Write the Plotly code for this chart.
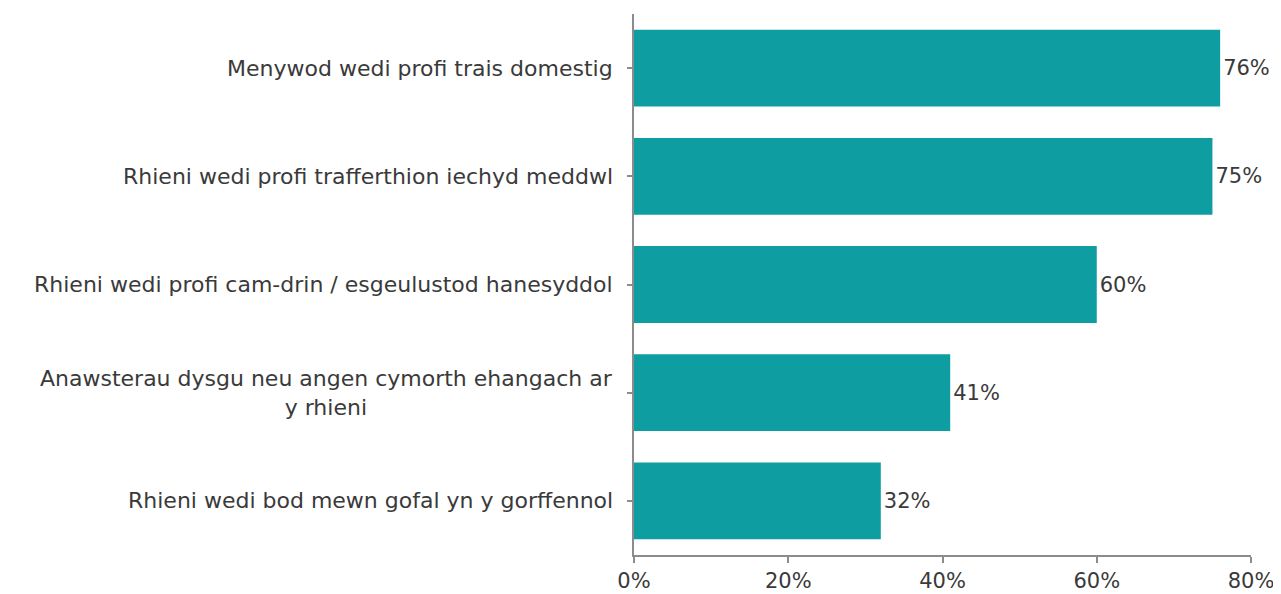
import plotly.graph_objects as go

categories = [
    "Menywod wedi profi trais domestig",
    "Rhieni wedi profi trafferthion iechyd meddwl",
    "Rhieni wedi profi cam-drin / esgeulustod hanesyddol",
    "Anawsterau dysgu neu angen cymorth ehangach ar<br>y rhieni",
    "Rhieni wedi bod mewn gofal yn y gorffennol",
]
values = [76, 75, 60, 41, 32]
x_ticks = [0, 20, 40, 60, 80]
x_ticklabels = ["0%", "20%", "40%", "60%", "80%"]

FONT = "DejaVu Sans"
TXT = "#3a3a3a"
BAR = "#0E9DA1"
AX = "#8c8c8c"

fig = go.Figure(go.Bar(
    y=categories, x=values, orientation="h",
    marker=dict(color=BAR, line=dict(width=0)),
    text=[f"{v}%" for v in values], textposition="outside",
    textfont=dict(family=FONT, size=21, color=TXT),
    cliponaxis=False,
))

for c in categories:
    fig.add_annotation(
        x=0, xref="paper", y=c, yref="y", text=c, showarrow=False,
        xanchor="right", yanchor="middle", align="center", xshift=-19,
        font=dict(family=FONT, size=22, color=TXT),
    )

fig.update_layout(
    width=1273, height=586,
    margin=dict(l=626, r=30, t=6, b=39, autoexpand=False),
    plot_bgcolor="white", paper_bgcolor="white",
    bargap=0.29, showlegend=False,
    xaxis=dict(
        range=[0, 80], tickvals=x_ticks, ticktext=x_ticklabels,
        showgrid=False, zeroline=False, showline=True, linecolor=AX, linewidth=1.5,
        ticks="outside", ticklen=6, tickcolor=AX, tickwidth=1.5,
        tickfont=dict(family=FONT, size=21, color=TXT), automargin=False,
    ),
    yaxis=dict(
        autorange="reversed", showticklabels=False, showgrid=False,
        showline=True, linecolor=AX, linewidth=1.5,
        ticks="outside", ticklen=5, tickcolor=AX, tickwidth=1.5, automargin=False,
    ),
)

fig.write_html("out.html")
